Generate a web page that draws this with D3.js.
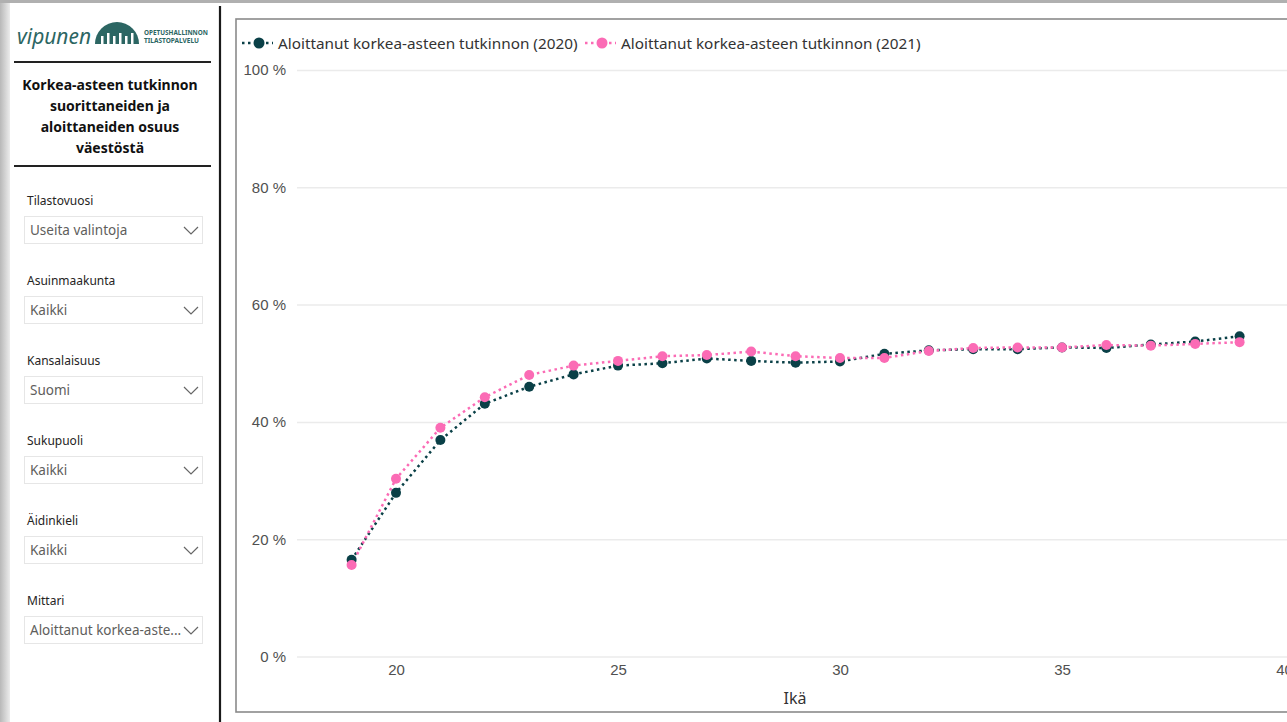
<!DOCTYPE html>
<html>
<head>
<meta charset="utf-8">
<script src="https://cdn.jsdelivr.net/npm/d3@7"></script>
<style>
  body { margin: 0; background: #fff; }
  svg { display: block; font-family: "Segoe UI", "Noto Sans", sans-serif; }
</style>
</head>
<body>
<div id="chart"></div>
<script>
// ages on the x axis
const ages = [19, 20, 21, 22, 23, 24, 25, 26, 27, 28, 29, 30, 31, 32, 33, 34, 35, 36, 37, 38, 39];
// share of population (%) that started a higher education degree
const share2020 = [16.5, 27.9, 36.9, 43.1, 46.0, 48.1, 49.6, 50.0, 50.8, 50.4, 50.1, 50.3, 51.6, 52.2, 52.4, 52.4, 52.7, 52.6, 53.2, 53.7, 54.6];
const share2021 = [15.6, 30.3, 39.0, 44.2, 48.0, 49.6, 50.4, 51.2, 51.4, 52.0, 51.2, 50.9, 50.9, 52.1, 52.6, 52.7, 52.7, 53.1, 53.0, 53.3, 53.6];
const seriesNames = ["Aloittanut korkea-asteen tutkinnon (2020)", "Aloittanut korkea-asteen tutkinnon (2021)"];
const yTicks = [0, 20, 40, 60, 80, 100];
const xTicks = [20, 25, 30, 35, 40];
const xTitle = "Ikä";

// left panel
const titleLines = ["Korkea-asteen tutkinnon", "suorittaneiden ja", "aloittaneiden osuus", "väestöstä"];
const slicerLabels = ["Tilastovuosi", "Asuinmaakunta", "Kansalaisuus", "Sukupuoli", "Äidinkieli", "Mittari"];
const slicerValues = ["Useita valintoja", "Kaikki", "Suomi", "Kaikki", "Kaikki", "Aloittanut korkea-aste..."];

const W = 1287, H = 722;
const colors = ["#0a4047", "#fb6bb5"];

const svg = d3.select("#chart").append("svg")
    .attr("width", W)
    .attr("height", H);

// shadow edges of the screenshot
const grad = svg.append("defs").append("linearGradient").attr("id", "lshadow");
grad.append("stop").attr("offset", "0%").attr("stop-color", "#b8b8b8");
grad.append("stop").attr("offset", "100%").attr("stop-color", "#ececec");
svg.append("rect").attr("x", 0).attr("y", 0).attr("width", 10).attr("height", H).attr("fill", "url(#lshadow)");
svg.append("rect").attr("x", 0).attr("y", 0).attr("width", W).attr("height", 3).attr("fill", "#b0b0b0");

// ---- logo ----
const logo = svg.append("g");
logo.append("text")
    .attr("x", 17).attr("y", 44)
    .attr("font-size", 22).attr("font-style", "italic")
    .attr("textLength", 74).attr("lengthAdjust", "spacingAndGlyphs")
    .attr("fill", "#2c6663")
    .text("vipunen");
logo.append("path")
    .attr("d", d3.arc()({innerRadius: 0, outerRadius: 22, startAngle: -Math.PI / 2, endAngle: Math.PI / 2}))
    .attr("transform", "translate(117,44)")
    .attr("fill", "#2c6663");
[101, 107, 113, 119, 125, 131].forEach((bx, i) => {
    logo.append("rect")
        .attr("x", bx).attr("y", i % 2 ? 33 : 36)
        .attr("width", 2.5).attr("height", i % 2 ? 11 : 8)
        .attr("fill", "#fff");
});
logo.append("text").attr("x", 144).attr("y", 35).attr("font-size", 6.3).attr("font-weight", "bold")
    .attr("textLength", 64).attr("lengthAdjust", "spacingAndGlyphs")
    .attr("fill", "#2c6663").text("OPETUSHALLINNON");
logo.append("text").attr("x", 144).attr("y", 43).attr("font-size", 6.3).attr("font-weight", "bold")
    .attr("textLength", 55).attr("lengthAdjust", "spacingAndGlyphs")
    .attr("fill", "#2c6663").text("TILASTOPALVELU");

svg.append("line").attr("x1", 14).attr("x2", 211).attr("y1", 62).attr("y2", 62)
    .attr("stroke", "#222").attr("stroke-width", 2);
svg.append("line").attr("x1", 14).attr("x2", 211).attr("y1", 166).attr("y2", 166)
    .attr("stroke", "#222").attr("stroke-width", 2);

svg.append("g").selectAll("text")
    .data(titleLines)
    .join("text")
    .attr("x", 110)
    .attr("y", (d, i) => 90 + i * 21)
    .attr("text-anchor", "middle")
    .attr("font-size", 14)
    .attr("font-weight", "bold")
    .attr("fill", "#111")
    .text(d => d);

// slicers
const slicer = svg.append("g").selectAll("g")
    .data(slicerLabels)
    .join("g")
    .attr("transform", (d, i) => "translate(0," + (i * 80) + ")");
slicer.append("text")
    .attr("x", 27).attr("y", 205)
    .attr("font-size", 12).attr("fill", "#252423")
    .text(d => d);
slicer.append("rect")
    .attr("x", 24.5).attr("y", 216.5).attr("width", 178).attr("height", 27)
    .attr("fill", "#fff").attr("stroke", "#e6e6e6");
slicer.append("text")
    .attr("x", 30).attr("y", 235)
    .attr("font-size", 13.5).attr("fill", "#605e5c")
    .text((d, i) => slicerValues[i]);
slicer.append("polyline")
    .attr("points", "184,227 191,234 198,227")
    .attr("fill", "none").attr("stroke", "#666").attr("stroke-width", 1.2);

// divider
svg.append("line").attr("x1", 220).attr("x2", 220).attr("y1", 6).attr("y2", H)
    .attr("stroke", "#1a1a1a").attr("stroke-width", 2.2);

// chart frame
svg.append("rect").attr("x", 236).attr("y", 19).attr("width", W).attr("height", 693)
    .attr("fill", "#fff").attr("stroke", "#8a8a8a").attr("stroke-width", 1.6);

// ---- chart ----
const x = d3.scaleLinear().domain([20, 40]).range([396, 1284]);
const y = d3.scaleLinear().domain([0, 100]).range([656.5, 70]);

const yAxis = svg.append("g")
    .attr("transform", "translate(297,0)")
    .call(d3.axisLeft(y).tickValues(yTicks).tickSize(-(W - 297)).tickPadding(11).tickFormat(d => d + " %"));
yAxis.select(".domain").remove();
yAxis.selectAll("line").attr("stroke", "#ebebeb").attr("stroke-width", 1.5);
yAxis.selectAll("text").attr("font-size", 15).attr("fill", "#505050").attr("font-family", null);

const xAxis = svg.append("g")
    .attr("transform", "translate(0,657)")
    .call(d3.axisBottom(x).tickValues(xTicks).tickSize(0).tickPadding(7));
xAxis.select(".domain").remove();
xAxis.selectAll("text").attr("font-size", 15).attr("fill", "#505050").attr("font-family", null);

svg.append("text")
    .attr("x", 795).attr("y", 704)
    .attr("text-anchor", "middle")
    .attr("font-size", 16).attr("fill", "#333")
    .text(xTitle);

const series = [share2020, share2021];
const line = d3.line()
    .x((d, i) => x(ages[i]))
    .y(d => y(d));

series.forEach((vals, s) => {
    svg.append("path")
        .datum(vals)
        .attr("fill", "none")
        .attr("stroke", colors[s])
        .attr("stroke-width", 2.5)
        .attr("stroke-dasharray", "2.5,3.5")
        .attr("d", line);
});
series.forEach((vals, s) => {
    svg.append("g").selectAll("circle")
        .data(vals)
        .join("circle")
        .attr("cx", (d, i) => x(ages[i]))
        .attr("cy", d => y(d))
        .attr("r", 5)
        .attr("fill", colors[s]);
});

// legend
const legendX = [242, 585];
seriesNames.forEach((name, s) => {
    const g = svg.append("g").attr("transform", "translate(" + legendX[s] + ",43)");
    g.append("line").attr("x1", 0).attr("x2", 31).attr("y1", 0).attr("y2", 0)
        .attr("stroke", colors[s]).attr("stroke-width", 2.5).attr("stroke-dasharray", "2.5,3.5");
    g.append("circle").attr("cx", 17).attr("cy", 0).attr("r", 5.5).attr("fill", colors[s]);
    g.append("text").attr("x", 36).attr("y", 5.5)
        .attr("font-size", 15.3).attr("fill", "#333")
        .text(name);
});
</script>
</body>
</html>
